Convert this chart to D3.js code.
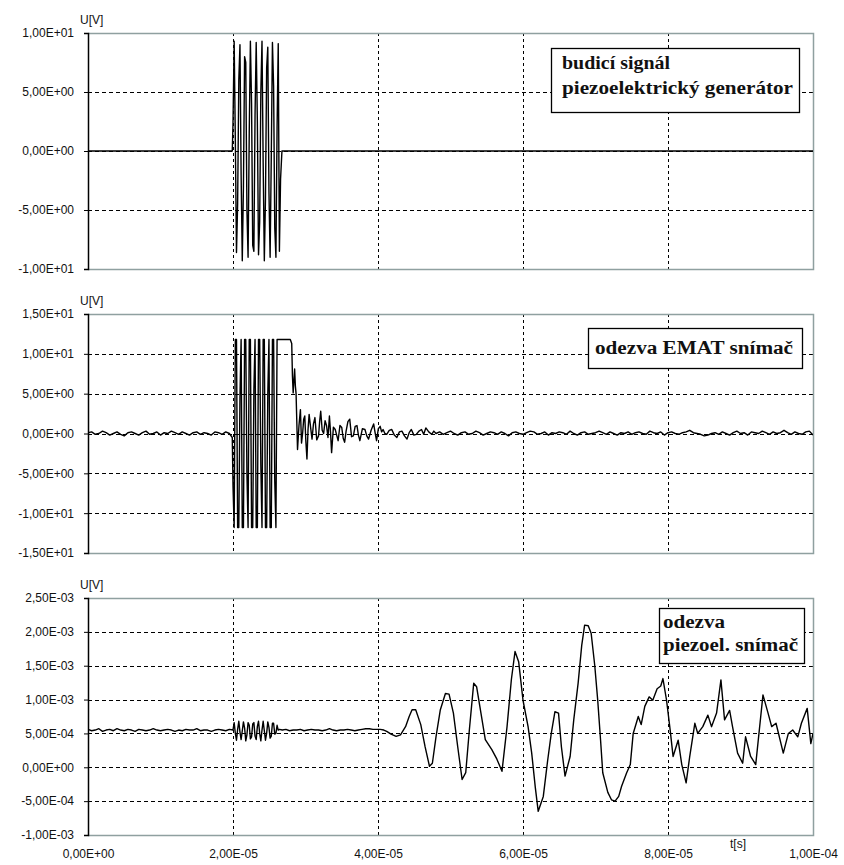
<!DOCTYPE html>
<html>
<head>
<meta charset="utf-8">
<script src="https://cdn.jsdelivr.net/npm/d3@7"></script>
<style>
  body { margin: 0; background: #fff; }
  text { font-family: Arial, "Liberation Sans", sans-serif; }
</style>
</head>
<body>
<div id="chart"></div>
<script>
// time axis (s)
const xTicks = [0, 2e-5, 4e-5, 6e-5, 8e-5, 1e-4]
const xTickLabels = ['0,00E+00', '2,00E-05', '4,00E-05', '6,00E-05', '8,00E-05', '1,00E-04']

// y axes
const y1Ticks = [-10, -5, 0, 5, 10]
const y1TickLabels = ['-1,00E+01', '-5,00E+00', '0,00E+00', '5,00E+00', '1,00E+01']
const y2Ticks = [-15, -10, -5, 0, 5, 10, 15]
const y2TickLabels = ['-1,50E+01', '-1,00E+01', '-5,00E+00', '0,00E+00', '5,00E+00', '1,00E+01', '1,50E+01']
const y3Ticks = [-1e-3, -5e-4, 0, 5e-4, 1e-3, 1.5e-3, 2e-3, 2.5e-3]
const y3TickLabels = ['-1,00E-03', '-5,00E-04', '0,00E+00', '5,00E-04', '1,00E-03', '1,50E-03', '2,00E-03', '2,50E-03']

const legend1 = ['budicí signál', 'piezoelektrický generátor']
const legend2 = ['odezva EMAT snímač']
const legend3 = ['odezva', 'piezoel. snímač']

// --- signal 1: excitation (t in µs, U in V)
const excitePre = [[0, 0], [19.9, 0]]
const exciteBurst = [2.3, 9.3, 1.0, -8.6, -4.5, 6.0, 9.0, -2.0, -9.3, -3.0, 8.0, 7.5, -5.0, -9.0, 1.5, 9.3,
  4.0, -8.0, -8.5, 3.0, 9.2, 2.5, -8.8, -6.0, 5.0, 9.3, -1.0, -9.3, -4.0, 7.0, 8.8, -3.5, -9.0, -0.5,
  9.2, 5.5, -6.5, -9.0, 2.0, 9.1, -8.5, -2.4]
const excitePost = [[26.75, 0], [100, 0]]

// --- signal 2: EMAT response
const ematPre = [0.1, 0.2, -0.1, 0.0, 0.3, 0.1, -0.2, 0.0, 0.2, -0.1, -0.3, 0.1, 0.2, 0.0, -0.2, 0.1,
  0.3, -0.1, 0.0, 0.2, -0.2, 0.1, 0.0, 0.3, 0.1, -0.1, 0.2, 0.0, -0.2, 0.1, 0.2, -0.1, 0.1, 0.0, -0.2,
  0.2, 0.1, -0.1, 0.2, 0.0]
const ematBurst = [-6.6, -11.8, 11.8, 11.8, -11.8, -11.8, 4.5, 11.8, -11.8, -11.8, 11.8, 11.8, -5.0,
  -11.8, 11.8, 11.8, -11.8, -11.8, 5.5, 11.8, -11.8, -11.8, 11.8, 11.8, -4.0, -11.8, 11.8, 11.8, -11.8,
  -11.8, 5.0, 11.8, -11.8, -11.8, 11.8, 11.8, -6.0, -11.8, 11.8, 11.8, 11.8]
const ematDecay = [[27.9, 11.8], [28.1, 11.3], [28.2, 7.2], [28.3, 5.1], [28.5, 8.1], [28.6, 6.0],
  [28.7, 5.0], [28.9, -2.0], [29.1, 1.0], [29.3, 3.0], [29.45, -1.2], [29.6, 0.0], [29.75, 1.8],
  [29.9, 2.2], [30.05, -1.0], [30.2, -3.2], [30.35, 0.5], [30.5, 2.4], [30.7, 0.8], [30.9, -0.7],
  [31.1, 1.2], [31.3, 2.0], [31.55, -0.8], [31.8, -0.3], [31.95, 1.5], [32.1, 2.8], [32.3, 0.4],
  [32.5, 0.0], [32.7, 1.6], [32.9, 1.0], [33.1, -0.5], [33.3, 2.2], [33.45, 0.2], [33.6, -2.4],
  [33.85, 0.8], [34.1, 0.5], [34.3, -0.2], [34.5, -0.9], [34.75, 1.0], [35.0, 0.75], [35.2, -0.6],
  [35.4, -1.1], [35.6, 0.3], [35.85, 1.5], [36.1, 1.8], [36.35, -0.4], [36.6, -0.3], [36.85, 0.9],
  [37.1, 1.0], [37.3, -0.2], [37.5, -0.9], [37.85, 0.6], [38.2, 0.5], [38.45, -0.3], [38.7, -0.7],
  [39.05, 0.4], [39.4, 1.2], [39.6, 0.1], [39.8, -0.9], [40.05, 0.6], [40.3, 0.9], [40.5, 0.2],
  [40.7, 0.5], [40.95, 0.0], [41.2, -0.1], [41.55, 0.4], [41.9, 0.5], [42.25, -0.2], [42.6, -0.5],
  [42.95, 0.2], [43.3, 0.3], [43.65, -0.3], [44.0, -0.7], [44.3, 0.1], [44.6, 0.5], [44.95, -0.2],
  [45.3, -0.1], [45.65, 0.3], [46.0, 0.5], [46.3, -0.1], [46.6, 0.7], [47.0, 0.2], [47.4, -0.1], [47.7, 0.3]]
const ematPost = [0.0, 0.2, -0.1, 0.1, 0.3, 0.0, -0.2, 0.1, 0.2, -0.1,
  0.0, 0.3, 0.1, -0.2, 0.0, 0.2, 0.1, -0.1, 0.2, 0.0,
  -0.3, 0.1, 0.2, 0.0, -0.1, 0.1, 0.3, 0.2, -0.1, 0.0,
  0.2, -0.2, 0.1, 0.0, 0.2, 0.1, -0.1, 0.3, 0.0, -0.2,
  0.1, 0.2, -0.1, 0.0, 0.1, 0.3, 0.1, -0.1, 0.2, 0.0,
  -0.2, 0.1, 0.0, 0.2, -0.1, 0.1, 0.2, 0.0, -0.1, 0.3,
  0.1, 0.0, 0.2, -0.2, 0.1, 0.2, 0.0, -0.1, 0.1, 0.2,
  0.4, 0.1, 0.0, -0.1, -0.3, -0.2, 0.0, 0.1, -0.1, 0.2,
  0.0, -0.2, 0.1, 0.3, 0.0, 0.1, -0.2, 0.2, 0.1, 0.0,
  0.3, 0.1, -0.1, 0.2, 0.0, 0.1, 0.4, 0.1, -0.1, 0.2,
  0.0, -0.1, 0.2, 0.3, -0.2]

// --- signal 3: piezo response
const piezoPre = [5.6e-4, 5.4e-4, 5.5e-4, 5.7e-4, 5.3e-4, 5.5e-4, 5.6e-4, 5.4e-4, 5.7e-4, 5.5e-4,
  5.4e-4, 5.6e-4, 5.5e-4, 5.3e-4, 5.6e-4, 5.5e-4, 5.4e-4, 5.5e-4, 5.7e-4, 5.5e-4,
  5.4e-4, 5.5e-4, 5.6e-4, 5.5e-4, 5.3e-4, 5.5e-4, 5.4e-4, 5.6e-4, 5.5e-4, 5.5e-4,
  5.7e-4, 5.4e-4, 5.5e-4, 5.5e-4, 5.3e-4, 5.5e-4, 5.6e-4, 5.5e-4, 5.4e-4, 5.6e-4]
const piezoBurst = [5.5e-4, 6.6e-4, 5.0e-4, 4.0e-4, 5.6e-4, 6.8e-4, 5.2e-4, 4.1e-4, 5.4e-4, 6.7e-4,
  5.8e-4, 3.9e-4, 4.8e-4, 6.6e-4, 6.2e-4, 4.2e-4, 4.5e-4, 6.4e-4, 6.6e-4, 4.6e-4, 4.1e-4, 6.0e-4,
  6.8e-4, 5.0e-4, 3.9e-4, 5.5e-4, 6.8e-4, 5.4e-4, 4.0e-4, 5.0e-4, 6.7e-4, 5.9e-4, 4.3e-4, 4.6e-4,
  6.5e-4, 6.5e-4, 4.9e-4, 5.0e-4, 6.2e-4, 5.5e-4, 5.6e-4]
const piezoMid = [5.5e-4, 5.6e-4, 5.4e-4, 5.5e-4, 5.5e-4, 5.6e-4, 5.4e-4, 5.5e-4, 5.6e-4, 5.5e-4,
  5.5e-4, 5.4e-4, 5.5e-4, 5.7e-4, 5.5e-4, 5.4e-4, 5.5e-4, 5.5e-4, 5.6e-4, 5.5e-4, 5.4e-4, 5.5e-4,
  5.6e-4, 5.7e-4, 5.7e-4, 5.6e-4, 5.6e-4]
const piezoWave = [[40.3, 5.6e-4], [40.8, 5.5e-4], [41.2, 5.3e-4], [41.8, 4.9e-4], [42.5, 4.56e-4],
  [43.1, 4.8e-4], [43.8, 6.0e-4], [44.3, 7.5e-4], [44.7, 8.5e-4], [45.2, 8.5e-4], [45.9, 6.3e-4],
  [46.5, 3.0e-4], [47.1, 1.5e-5], [47.5, 6e-5], [48.0, 4.5e-4], [48.6, 8.5e-4], [49.3, 1.09e-3],
  [49.8, 1.08e-3], [50.4, 8.0e-4], [51.0, 3.0e-4], [51.6, -1.8e-4], [52.1, -8e-5], [52.6, 5.5e-4],
  [53.2, 1.24e-3], [53.6, 1.19e-3], [54.2, 8.0e-4], [54.8, 4.1e-4], [55.7, 2.6e-4], [56.4, 1.2e-4],
  [57.1, -6e-5], [57.8, 6.0e-4], [58.4, 1.3e-3], [58.9, 1.71e-3], [59.4, 1.56e-3], [60.0, 9.9e-4],
  [60.7, 6.0e-4], [61.2, 2.1e-4], [61.7, -3e-4], [62.1, -6.5e-4], [62.8, -4.3e-4], [63.4, 1.0e-4],
  [63.9, 5.0e-4], [64.4, 8.2e-4], [64.9, 8.0e-4], [65.3, 3.0e-4], [65.8, -1.3e-4], [66.5, 1.6e-4],
  [67.0, 7.0e-4], [67.6, 1.24e-3], [68.1, 1.8e-3], [68.5, 2.1e-3], [69.0, 2.09e-3], [69.4, 1.98e-3],
  [69.9, 1.5e-3], [70.3, 1.0e-3], [70.7, 4.0e-4], [71.0, -8e-5], [71.7, -3.7e-4], [72.2, -4.8e-4],
  [72.7, -5.0e-4], [73.2, -4.3e-4], [73.6, -2.8e-4], [74.3, -8e-5], [74.8, 4e-5], [75.2, 5.0e-4],
  [75.9, 7.5e-4], [76.3, 6.3e-4], [76.8, 9.0e-4], [77.4, 1.04e-3], [77.9, 9.9e-4], [78.5, 1.16e-3],
  [79.0, 1.2e-3], [79.3, 1.31e-3], [79.8, 9.9e-4], [80.3, 5.5e-4], [80.7, 1.6e-4], [81.4, 4.0e-4],
  [81.9, 4e-5], [82.5, -2.3e-4], [83.0, 1.6e-4], [83.7, 6.5e-4], [84.1, 5.0e-4], [84.8, 6.0e-4],
  [85.5, 7.7e-4], [86.0, 6.0e-4], [86.7, 8.0e-4], [87.3, 1.29e-3], [87.8, 7.0e-4], [88.5, 8.4e-4],
  [88.9, 6.0e-4], [89.6, 2.1e-4], [90.3, 6e-5], [90.7, 4.5e-4], [91.4, 1.6e-4], [92.1, 4e-5],
  [93.1, 1.07e-3], [93.8, 8.0e-4], [94.3, 6.0e-4], [94.9, 6.5e-4], [95.9, 2.1e-4], [96.6, 5.0e-4],
  [97.2, 5.5e-4], [97.9, 4.5e-4], [98.4, 6.5e-4], [99.2, 8.7e-4], [99.7, 3.5e-4], [100, 5.0e-4]]

// sampled record -> [t, value] pairs (t0, dt in µs)
function sampled(t0, dt, vals) {
  return vals.map((v, i) => [t0 + i * dt, v])
}

const excite = [].concat(excitePre, sampled(20.0, 0.16, exciteBurst), excitePost)
const emat = [].concat(sampled(0, 0.5, ematPre), [[19.9, -0.5]], sampled(20.0, 0.16, ematBurst),
  ematDecay, sampled(48.0, 0.5, ematPost))
const piezo = [].concat(sampled(0, 0.5, piezoPre), sampled(20.0, 0.16, piezoBurst),
  sampled(26.8, 0.5, piezoMid), piezoWave)

const width = 844
const height = 865
const left = 88
const right = 813

const svg = d3
  .select('#chart')
  .append('svg')
  .attr('width', width)
  .attr('height', height)

const xPositionScale = d3.scaleLinear().domain([0, 1e-4]).range([left, right])

// box = [x, y, w, h]; widths = measured text widths of each legend line
const panels = [
  { top: 33, bottom: 269, ticks: y1Ticks, labels: y1TickLabels, data: excite, legend: legend1,
    box: [551, 48, 248, 64], textX: 562, textY: [69, 94], widths: [108, 231] },
  { top: 314, bottom: 553, ticks: y2Ticks, labels: y2TickLabels, data: emat, legend: legend2,
    box: [588, 328, 214, 40], textX: 595, textY: [354], widths: [198] },
  { top: 598, bottom: 835, ticks: y3Ticks, labels: y3TickLabels, data: piezo, legend: legend3,
    box: [659, 608, 145, 55], textX: 663, textY: [628, 651], widths: [62, 135] }
]

panels.forEach((p, idx) => {
  const yPositionScale = d3
    .scaleLinear()
    .domain(d3.extent(p.ticks))
    .range([p.bottom, p.top])

  const g = svg.append('g')

  // horizontal gridlines (inner ticks only)
  g.selectAll('.hgrid')
    .data(p.ticks.slice(1, -1))
    .enter()
    .append('line')
    .attr('x1', left)
    .attr('x2', right)
    .attr('y1', d => Math.round(yPositionScale(d)) + 0.5)
    .attr('y2', d => Math.round(yPositionScale(d)) + 0.5)
    .attr('stroke', '#000')
    .attr('stroke-width', 1)
    .attr('stroke-dasharray', '4,3')

  // vertical gridlines
  g.selectAll('.vgrid')
    .data(xTicks.slice(1, -1))
    .enter()
    .append('line')
    .attr('x1', d => Math.round(xPositionScale(d)) + 0.5)
    .attr('x2', d => Math.round(xPositionScale(d)) + 0.5)
    .attr('y1', p.top)
    .attr('y2', p.bottom)
    .attr('stroke', '#000')
    .attr('stroke-width', 1)
    .attr('stroke-dasharray', '3,3')

  // frame: grey top / right / bottom
  g.append('path')
    .attr('d', `M${left},${p.top + 0.5}H${right + 0.5}V${p.bottom + 0.5}H${left}`)
    .attr('fill', 'none')
    .attr('stroke', '#8fa0a0')
    .attr('stroke-width', 1.5)

  // signal
  const clipId = 'clip' + idx
  g.append('clipPath')
    .attr('id', clipId)
    .append('rect')
    .attr('x', left)
    .attr('y', p.top - 1)
    .attr('width', right - left)
    .attr('height', p.bottom - p.top + 2)

  const line = d3
    .line()
    .x(d => xPositionScale(d[0] * 1e-6))
    .y(d => yPositionScale(d[1]))

  g.append('path')
    .datum(p.data)
    .attr('clip-path', `url(#${clipId})`)
    .attr('d', line)
    .attr('fill', 'none')
    .attr('stroke', '#000')
    .attr('stroke-width', 1.4)
    .attr('stroke-linejoin', 'round')

  // y axis
  const yAxis = d3
    .axisLeft(yPositionScale)
    .tickValues(p.ticks)
    .tickFormat((d, i) => p.labels[i])
    .tickSize(4)
    .tickPadding(10)

  const ax = g
    .append('g')
    .attr('class', 'axis y-axis')
    .attr('transform', `translate(${left},0)`)
    .call(yAxis)
  ax.select('.domain').attr('stroke', '#000').attr('stroke-width', 1.5)
  ax.selectAll('.tick line').attr('stroke', '#000')
  ax.selectAll('.tick text')
    .attr('font-size', 12)
    .attr('fill', '#111')
    .style('font-family', 'Arial, "Liberation Sans", sans-serif')

  // unit label
  g.append('text')
    .attr('x', 80)
    .attr('y', p.top - 9)
    .attr('font-size', 12)
    .attr('fill', '#111')
    .text('U[V]')

  // legend box
  g.append('rect')
    .attr('x', p.box[0] + 0.5)
    .attr('y', p.box[1] + 0.5)
    .attr('width', p.box[2])
    .attr('height', p.box[3])
    .attr('fill', '#fff')
    .attr('stroke', '#000')
    .attr('stroke-width', 1.3)

  p.legend.forEach((t, i) => {
    g.append('text')
      .attr('x', p.textX)
      .attr('y', p.textY[i])
      .style('font-family', '"Liberation Serif", "Times New Roman", serif')
      .attr('font-weight', 'bold')
      .attr('font-size', 18)
      .attr('fill', '#111')
      .attr('textLength', p.widths[i])
      .attr('lengthAdjust', 'spacingAndGlyphs')
      .text(t)
  })

  // x axis labels on the last panel
  if (idx === panels.length - 1) {
    const xAxis = d3
      .axisBottom(xPositionScale)
      .tickValues(xTicks)
      .tickFormat((d, i) => xTickLabels[i])
      .tickSize(0)
      .tickPadding(14)
    const xa = g
      .append('g')
      .attr('class', 'axis x-axis')
      .attr('transform', `translate(0,${p.bottom})`)
      .call(xAxis)
    xa.select('.domain').remove()
    xa.selectAll('.tick text')
      .attr('font-size', 12)
      .attr('fill', '#111')
      .style('font-family', 'Arial, "Liberation Sans", sans-serif')

    g.append('text')
      .attr('x', 738)
      .attr('y', 848)
      .attr('text-anchor', 'middle')
      .attr('font-size', 12)
      .attr('fill', '#111')
      .text('t[s]')
  }
})
</script>
</body>
</html>
